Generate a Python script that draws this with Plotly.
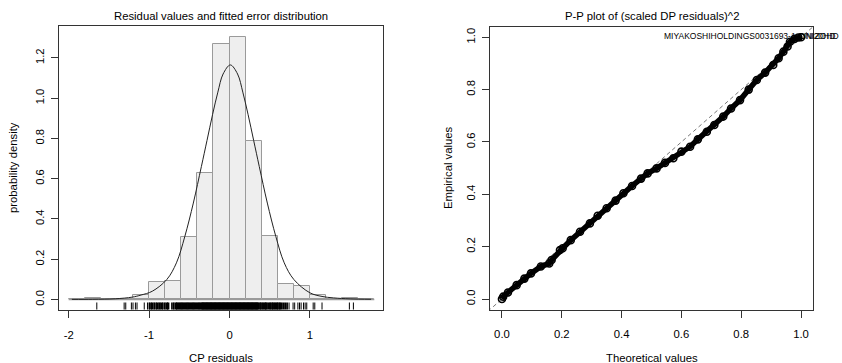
import plotly.graph_objects as go

# ---------------- data ----------------
# Histogram of CP residuals (bin left edges, width 0.2) and densities
bin_left = [-2.0, -1.8, -1.6, -1.4, -1.2, -1.0, -0.8, -0.6, -0.4, -0.2,
            0.0, 0.2, 0.4, 0.6, 0.8, 1.0, 1.2, 1.4, 1.6]
bin_density = [0.0, 0.006, 0.0, 0.004, 0.023, 0.088, 0.092, 0.31, 0.63, 1.267,
               1.302, 0.787, 0.314, 0.078, 0.069, 0.023, 0.0, 0.006, 0.0]
bin_width = 0.2

# Fitted error distribution
fit_x = [-1.96, -1.7, -1.42, -1.21, -1.1, -0.96, -0.78, -0.66, -0.555, -0.45,
         -0.35, -0.28, -0.21, -0.145, -0.08, 0.01, 0.1, 0.165, 0.23, 0.30,
         0.37, 0.47, 0.575, 0.68, 0.80, 1.0, 1.15, 1.29, 1.5, 1.76]
fit_y = [0.0005, 0.001, 0.0035, 0.0116, 0.022, 0.041, 0.099, 0.182, 0.314, 0.479,
         0.66, 0.79, 0.92, 1.03, 1.12, 1.165, 1.12, 1.03, 0.92, 0.79,
         0.66, 0.479, 0.314, 0.182, 0.099, 0.033, 0.015, 0.008, 0.003, 0.001]

# Rug of residuals: sparse tails and dense core
rug_sparse = [-1.65, -1.31, -1.29, -1.22, -1.20, -1.17, -1.15, -1.06,
              -1.02, -1.0, -0.97, -0.94, -0.91, -0.88, -0.86, -0.83, -0.8, -0.77,
              -0.72, -0.69, -0.66,
              0.72, 0.74, 0.79, 0.81, 0.85, 0.87, 0.89, 0.92, 0.94, 0.96,
              1.04, 1.06, 1.15, 1.49, 1.54]
rug_dense = [-0.99, -0.96, -0.93, -0.9, -0.87, -0.84, -0.81, -0.78, -0.76, -0.7,
             -0.67, -0.65, -0.635, -0.62, -0.605, -0.59, -0.575, -0.56, -0.545, -0.53,
             -0.515, -0.5, -0.485, -0.47, -0.455, -0.44, -0.425, -0.41, -0.395, -0.38,
             -0.365, -0.35, -0.34,
             -0.33, -0.32, -0.31, -0.30, -0.29, -0.28, -0.27, -0.26, -0.25, -0.24,
             -0.23, -0.22, -0.21, -0.20, -0.19, -0.18, -0.17, -0.16, -0.15, -0.14,
             -0.13, -0.12, -0.11, -0.10, -0.09, -0.08, -0.07, -0.06, -0.05, -0.04,
             -0.03, -0.02, -0.01, 0.00, 0.01, 0.02, 0.03, 0.04, 0.05, 0.06,
             0.07, 0.08, 0.09, 0.10, 0.11, 0.12, 0.13, 0.14, 0.15, 0.16,
             0.17, 0.18, 0.19, 0.20, 0.21, 0.22, 0.23, 0.24, 0.25, 0.26,
             0.27, 0.28, 0.29, 0.30, 0.31, 0.32, 0.33, 0.34, 0.35, 0.36,
             0.38, 0.39, 0.41, 0.42, 0.44, 0.45, 0.46, 0.48, 0.5, 0.51, 0.53, 0.54,
             0.56, 0.57, 0.59, 0.6, 0.62, 0.63, 0.65, 0.675, 0.70]

# P-P plot of (scaled DP residuals)^2
pp_theoretical = [0.0, 0.004, 0.02, 0.049, 0.075, 0.097, 0.13, 0.158, 0.166, 0.194,
                  0.203, 0.23, 0.261, 0.294, 0.32, 0.35, 0.38, 0.406, 0.435, 0.465,
                  0.487, 0.517, 0.545, 0.573, 0.6, 0.629, 0.655, 0.685, 0.71, 0.74,
                  0.766, 0.796, 0.825, 0.852, 0.88, 0.907, 0.925, 0.941, 0.955, 0.963,
                  0.978, 0.991, 1.0]
pp_empirical = [0.0, 0.009, 0.025, 0.053, 0.078, 0.098, 0.124, 0.136, 0.149, 0.187,
                0.194, 0.225, 0.257, 0.289, 0.318, 0.347, 0.376, 0.404, 0.432, 0.46,
                0.48, 0.499, 0.52, 0.538, 0.563, 0.582, 0.61, 0.639, 0.665, 0.697,
                0.728, 0.76, 0.8, 0.837, 0.865, 0.894, 0.92, 0.945, 0.965, 0.983,
                0.994, 0.999, 1.0]
ref_line = [-0.1, 1.1]

hist_xticks = [-2, -1, 0, 1]
hist_yticks = [0.0, 0.2, 0.4, 0.6, 0.8, 1.0, 1.2]
pp_ticks = [0.0, 0.2, 0.4, 0.6, 0.8, 1.0]

# ---------------- figure ----------------
W, H = 842, 363
FONT = "Liberation Sans, Arial, Helvetica, sans-serif"
FS = 11.3
AX = "#333333"

fig = go.Figure()

bin_centers = [b + bin_width / 2 for b in bin_left]
fig.add_trace(go.Bar(x=bin_centers, y=bin_density, width=bin_width,
                     marker=dict(color="#eeeeee", line=dict(color="#9a9a9a", width=1)),
                     xaxis="x", yaxis="y", showlegend=False))
fig.add_trace(go.Scatter(x=[bin_left[0], bin_left[-1] + bin_width], y=[0, 0], mode="lines",
                         line=dict(color="#9a9a9a", width=1.5),
                         xaxis="x", yaxis="y", showlegend=False))
fig.add_trace(go.Scatter(x=fit_x, y=fit_y, mode="lines", line=dict(color="#222222", width=1, shape="spline"),
                         xaxis="x", yaxis="y", showlegend=False))

# rug drawn as short vertical segments below the baseline
RUG_TOP, RUG_BOTTOM = -0.015, -0.05

def rug_trace(values, width):
    xs, ys = [], []
    for r in values:
        xs += [r, r, None]
        ys += [RUG_BOTTOM, RUG_TOP, None]
    return go.Scatter(x=xs, y=ys, mode="lines",
                      line=dict(color="black", width=width, simplify=False),
                      connectgaps=False, xaxis="x", yaxis="y", showlegend=False)

fig.add_trace(rug_trace(rug_sparse, 1.0))
fig.add_trace(rug_trace(rug_dense, 2.0))

fig.add_trace(go.Scatter(x=ref_line, y=ref_line, mode="lines",
                         line=dict(color="#777777", width=1, dash="4px,3px"),
                         xaxis="x2", yaxis="y2", showlegend=False))
fig.add_trace(go.Scatter(x=pp_theoretical, y=pp_empirical, mode="lines+markers",
                         line=dict(color="black", width=5.5),
                         marker=dict(symbol="circle-open", size=7, color="black", line=dict(width=1.6)),
                         xaxis="x2", yaxis="y2", showlegend=False))

def px_to_paper_x(px):
    return px / W

def px_to_paper_y(py):
    return 1 - py / H

common = dict(showgrid=False, zeroline=False, showline=True, mirror=True,
              linecolor=AX, linewidth=1, ticks="outside", ticklen=7, tickcolor=AX,
              tickfont=dict(family=FONT, size=FS, color="black"), automargin=False)

fig.update_layout(
    width=W, height=H, margin=dict(l=0, r=0, t=0, b=0),
    paper_bgcolor="white", plot_bgcolor="white", bargap=0,
    xaxis=dict(domain=[px_to_paper_x(59), px_to_paper_x(383)], range=[-2.12, 1.908],
               tickvals=hist_xticks, ticktext=[str(v) for v in hist_xticks],
               anchor="y", ticklabelstandoff=7, **common),
    yaxis=dict(domain=[px_to_paper_y(310), px_to_paper_y(26)], range=[-0.0523, 1.3585],
               tickvals=hist_yticks, ticktext=["%.1f" % v for v in hist_yticks],
               tickangle=-90, anchor="x", ticklabelstandoff=2, **common),
    xaxis2=dict(domain=[px_to_paper_x(490), px_to_paper_x(813)], range=[-0.04, 1.04],
                tickvals=pp_ticks, ticktext=["%.1f" % v for v in pp_ticks],
                anchor="y2", ticklabelstandoff=7, **common),
    yaxis2=dict(domain=[px_to_paper_y(309.5), px_to_paper_y(26.8)], range=[-0.04, 1.04],
                tickvals=pp_ticks, ticktext=["%.1f" % v for v in pp_ticks],
                tickangle=-90, anchor="x2", ticklabelstandoff=2, **common),
)

def note(text, px, py, size=FS, angle=0, xanchor="center"):
    fig.add_annotation(text=text, x=px_to_paper_x(px), y=px_to_paper_y(py),
                       xref="paper", yref="paper", showarrow=False, textangle=angle,
                       xanchor=xanchor, yanchor="middle",
                       font=dict(family=FONT, size=size, color="black"))

note("Residual values and fitted error distribution", 221, 16.5)
note("P-P plot of (scaled DP residuals)^2", 651.5, 16.5)
note("CP residuals", 221, 357.5)
note("Theoretical values", 651.5, 357.5)
note("probability density", 13, 168, angle=-90)
note("Empirical values", 448, 168, angle=-90)
note("MIYAKOSHIHOLDINGS0031693-1", 662, 36.5, size=8.5, xanchor="left")
note("DNI20HD", 796.5, 36.5, size=8.5, xanchor="left")
note("UNIZOHD", 798, 36.5, size=8.5, xanchor="left")

fig.write_html("out.html")
